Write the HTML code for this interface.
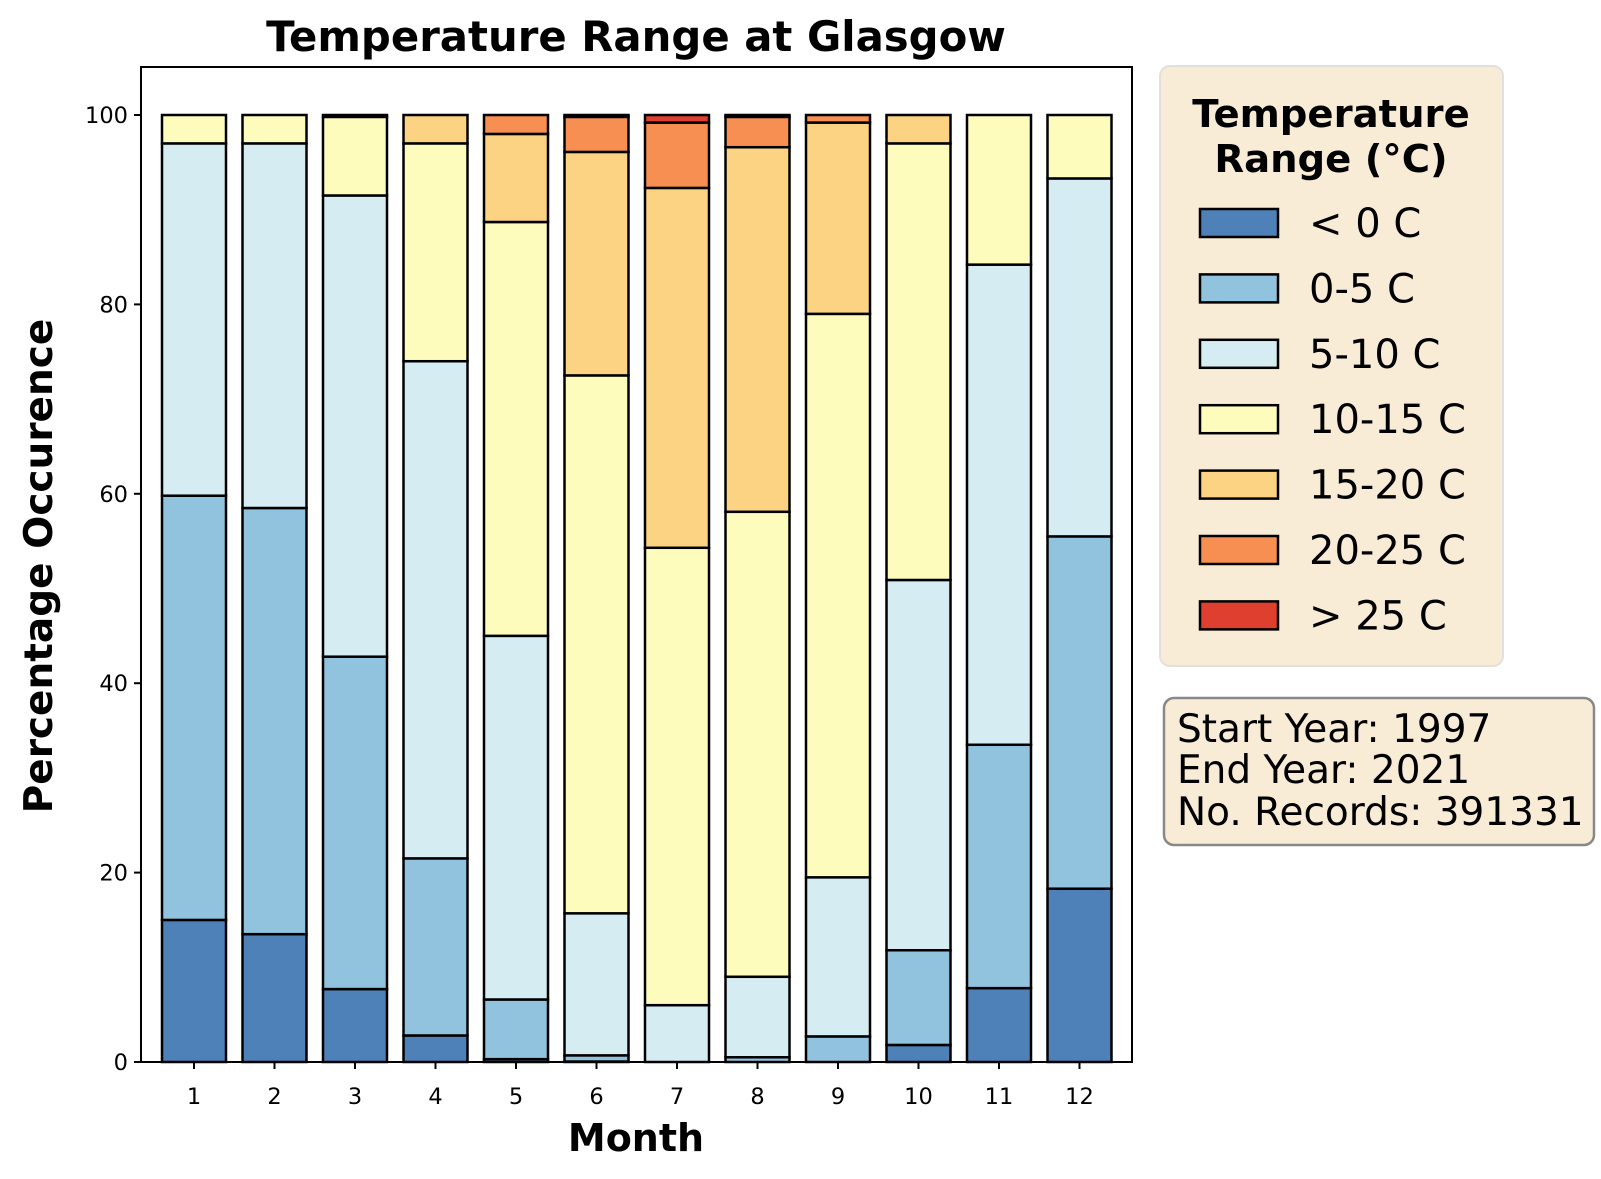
<!DOCTYPE html>
<html><head><meta charset="utf-8"><style>
html,body{margin:0;padding:0;background:#fff;}
svg{display:block;font-family:"DejaVu Sans","Liberation Sans",sans-serif;}
</style></head><body>
<svg id="s" width="1601" height="1179" viewBox="0 0 1601 1179" xmlns="http://www.w3.org/2000/svg">
<rect width="1601" height="1179" fill="#fff"/>
<g id="bars"></g>
<rect x="141" y="67" width="991" height="995" fill="none" stroke="#000" stroke-width="2"/>
<g id="ticks" font-size="22.5" fill="#000"></g>
<text x="636" y="51" font-size="41.8" font-weight="bold" text-anchor="middle">Temperature Range at Glasgow</text>
<text x="636" y="1151" font-size="38" font-weight="bold" text-anchor="middle">Month</text>
<text transform="translate(52,566) rotate(-90)" font-size="39" font-weight="bold" text-anchor="middle">Percentage Occurence</text>
<rect x="1160" y="66" width="343" height="600" rx="10" fill="#f8ecd7" stroke="#e2e0dc" stroke-width="2"/>
<text x="1331" y="127" font-size="38.6" font-weight="bold" text-anchor="middle">Temperature</text>
<text x="1331" y="172" font-size="38.6" font-weight="bold" text-anchor="middle">Range (°C)</text>
<g id="leg" font-size="40"></g>
<rect x="1164" y="698" width="430" height="147" rx="10" fill="#f8ecd7" stroke="#888" stroke-width="2.5"/>
<text x="1177" y="742" font-size="39">Start Year: 1997</text>
<text x="1177" y="783" font-size="39">End Year: 2021</text>
<text x="1177" y="825" font-size="39">No. Records: 391331</text>
</svg>
<script>
var NS="http://www.w3.org/2000/svg";
var cols=["#4f81b9","#91c3df","#d5ecf3","#fefcbd","#fcd283","#f88f52","#de3f2e"];
var labs=["< 0 C","0-5 C","5-10 C","10-15 C","15-20 C","20-25 C","> 25 C"];
var cum=[
[15.0,59.8,97.0,100,100,100,100],
[13.5,58.5,97.0,100,100,100,100],
[7.7,42.8,91.5,99.8,100,100,100],
[2.8,21.5,74.0,97.0,100,100,100],
[0.3,6.6,45.0,88.7,98.0,100,100],
[0.05,0.7,15.7,72.5,96.1,99.8,100],
[0,0,6.0,54.3,92.3,99.2,100],
[0,0.5,9.0,58.1,96.6,99.8,100],
[0,2.7,19.5,79.0,99.2,100,100],
[1.8,11.8,50.9,97.0,100,100,100],
[7.8,33.5,84.2,100,100,100,100],
[18.3,55.5,93.3,100,100,100,100]];
function Y(v){return 1062-v*9.47;}
function el(t,a,p,txt){var e=document.createElementNS(NS,t);for(var k in a)e.setAttribute(k,a[k]);if(txt!=null)e.textContent=txt;p.appendChild(e);return e;}
var bars=document.getElementById("bars");
for(var i=0;i<12;i++){var cx=194+80.5*i;var prev=0;
 for(var j=0;j<7;j++){var v=cum[i][j];if(v-prev>0.001){
  el("rect",{x:cx-32,y:Y(v),width:64,height:Y(prev)-Y(v),fill:cols[j],stroke:"#000","stroke-width":2.5},bars);}
  prev=v;}}
var tk=document.getElementById("ticks");
for(var i=0;i<12;i++){var cx=194+80.5*i;
 el("line",{x1:cx,y1:1062,x2:cx,y2:1069,stroke:"#000","stroke-width":2},tk);
 el("text",{x:cx,y:1104,"text-anchor":"middle"},tk,String(i+1));}
for(var v=0;v<=100;v+=20){var y=Y(v);
 el("line",{x1:134,y1:y,x2:141,y2:y,stroke:"#000","stroke-width":2},tk);
 el("text",{x:128,y:y+8,"text-anchor":"end"},tk,String(v));}
var lg=document.getElementById("leg");
for(var j=0;j<7;j++){var cy=223+65.4*j;
 el("rect",{x:1200,y:cy-14,width:78,height:28,fill:cols[j],stroke:"#000","stroke-width":2.5},lg);
 el("text",{x:1309,y:cy+14},lg,labs[j]);}
</script>
</body></html>
